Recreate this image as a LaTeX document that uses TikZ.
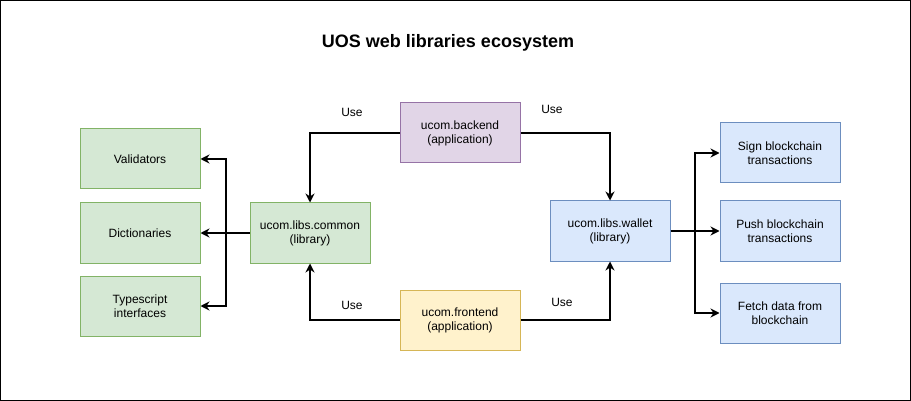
\documentclass[tikz,border=0pt]{standalone}
\usepackage{fontspec}
\setmainfont{Liberation Sans}
\usetikzlibrary{arrows.meta}
\definecolor{gfill}{HTML}{D5E8D4}\definecolor{gline}{HTML}{82B366}
\definecolor{pfill}{HTML}{E1D5E7}\definecolor{pline}{HTML}{9673A6}
\definecolor{yfill}{HTML}{FFF2CC}\definecolor{yline}{HTML}{D6B656}
\definecolor{bfill}{HTML}{DAE8FC}\definecolor{bline}{HTML}{6C8EBF}
\begin{document}
\begin{tikzpicture}[x=1pt,y=-1pt,
  box/.style={draw, line width=1pt, minimum width=120pt, minimum height=60pt, inner sep=0pt, align=center, font=\fontsize{12}{14}\selectfont},
  gbox/.style={box, fill=gfill, draw=gline},
  pbox/.style={box, fill=pfill, draw=pline},
  ybox/.style={box, fill=yfill, draw=yline},
  bbox/.style={box, fill=bfill, draw=bline},
  conn/.style={line width=1.5pt, -{Stealth[length=9pt,width=9pt,inset=3pt]}},
  trunk/.style={line width=2.5pt},
  lbl/.style={font=\fontsize{12}{14}\selectfont, inner sep=0pt}]
\draw[line width=1pt, fill=white] (0.5,0.5) rectangle (910.5,400.5);
\useasboundingbox (0,0) rectangle (911,401);
\node[font=\bfseries\fontsize{18}{22}\selectfont] (title) at (448,43) {UOS web libraries ecosystem};

\node[gbox] (val) at (140,159) {Validators};
\node[gbox] (dict) at (140,233) {Dictionaries};
\node[gbox] (ts) at (140,306) {Typescript\\interfaces};
\node[gbox] (common) at (310,233) {ucom.libs.common\\(library)};
\node[pbox] (backend) at (460,133) {ucom.backend\\(application)};
\node[ybox] (frontend) at (460,320) {ucom.frontend\\(application)};
\node[bbox] (wallet) at (610,231) {ucom.libs.wallet\\(library)};
\node[bbox] (sign) at (780,153) {Sign blockchain\\transactions};
\node[bbox] (push) at (780,231) {Push blockchain\\transactions};
\node[bbox] (fetch) at (780,313) {Fetch data from\\blockchain};

\coordinate (jl) at (226,233);
\coordinate (jr) at (695,231);

\draw[conn] (backend.west) -| (common.north);
\draw[conn] (frontend.west) -| (common.south);
\draw[conn] (backend.east) -| (wallet.north);
\draw[conn] (frontend.east) -| (wallet.south);

\draw[trunk] (common.west) -- (jl);
\draw[conn] (jl) |- (val.east);
\draw[conn] (jl) -- (dict.east);
\draw[conn] (jl) |- (ts.east);

\draw[trunk] (wallet.east) -- (jr);
\draw[conn] (jr) |- (sign.west);
\draw[conn] (jr) -- (push.west);
\draw[conn] (jr) |- (fetch.west);

\node[lbl] (u1) at (352,112) {Use};
\node[lbl] (u2) at (352,305) {Use};
\node[lbl] (u3) at (552,109) {Use};
\node[lbl] (u4) at (562,302) {Use};
\end{tikzpicture}
\end{document}
